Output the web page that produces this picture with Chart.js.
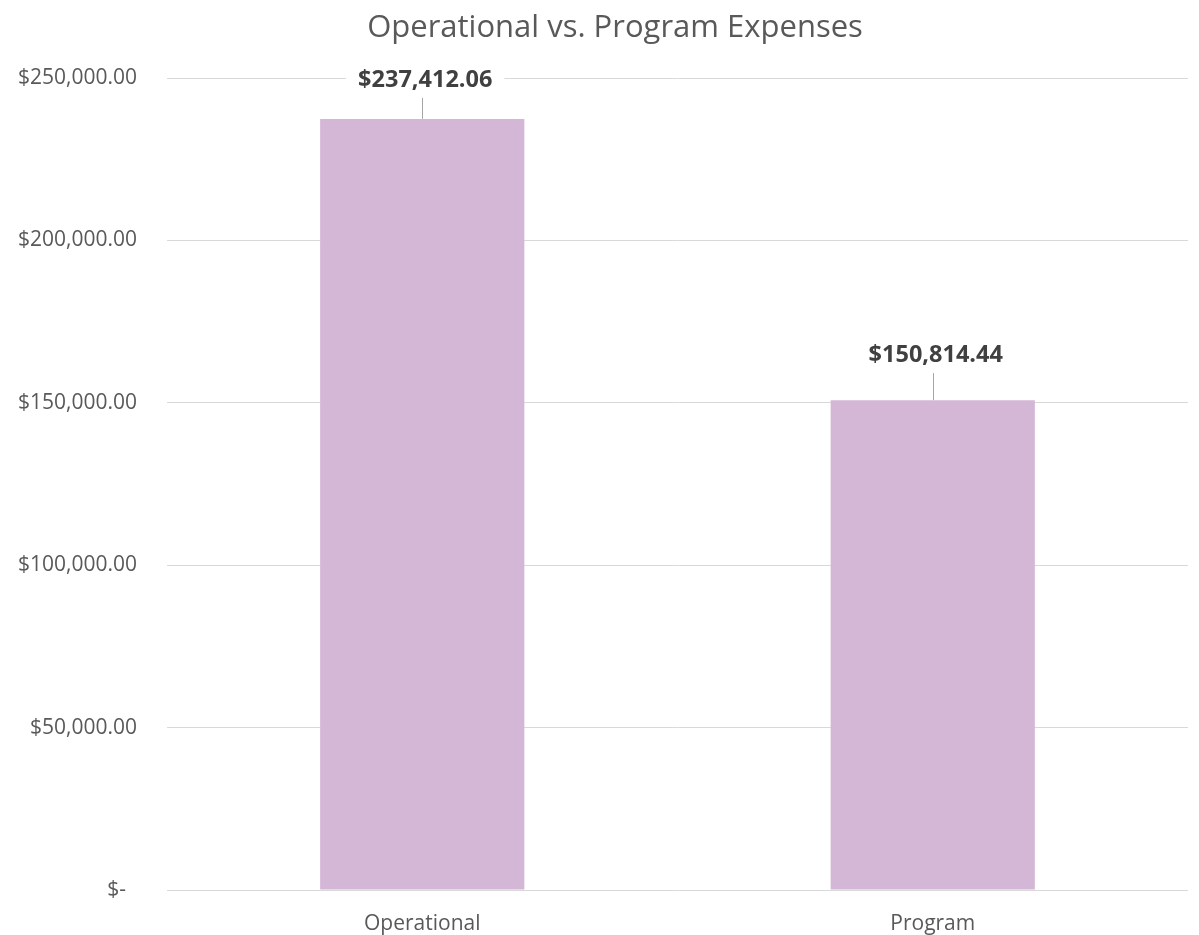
<!DOCTYPE html>
<html>
<head>
<meta charset="utf-8">
<script src="https://cdn.jsdelivr.net/npm/chart.js@4.4.1/dist/chart.umd.min.js"></script>
<style>
  html, body { margin: 0; padding: 0; background: #ffffff; }
  #wrap { width: 1199px; height: 935px; position: relative; }
</style>
</head>
<body>
<div id="wrap"><canvas id="c" width="1199" height="935"></canvas></div>
<script>
const categories = ['Operational', 'Program'];
const expenses = [237412.06, 150814.44];
const yTicks = [0, 50000, 100000, 150000, 200000, 250000];
const chartTitle = 'Operational vs. Program Expenses';

const FONT = "'Open Sans', 'Liberation Sans', sans-serif";

function money(v) {
  if (v === 0) return '$-  ';
  return '$' + v.toLocaleString('en-US', { minimumFractionDigits: 2, maximumFractionDigits: 2 });
}

const titlePlugin = {
  id: 'sheetTitle',
  afterDraw(chart, args, opts) {
    const ctx = chart.ctx;
    ctx.save();
    ctx.font = '31px ' + FONT;
    ctx.fillStyle = '#595959';
    ctx.textAlign = 'center';
    ctx.textBaseline = 'middle';
    ctx.fillText(opts.text, opts.x, opts.y);
    ctx.restore();
  }
};

const labelPlugin = {
  id: 'valueLabels',
  afterDatasetsDraw(chart, args, opts) {
    const ctx = chart.ctx;
    const meta = chart.getDatasetMeta(0);
    ctx.save();
    ctx.font = 'bold 23.5px ' + FONT;
    ctx.textAlign = 'center';
    ctx.textBaseline = 'middle';
    meta.data.forEach((bar, i) => {
      const text = money(chart.data.datasets[0].data[i]);
      const cx = bar.x + opts.dx;
      const cy = bar.y - opts.offsets[i];
      const w = ctx.measureText(text).width;
      ctx.fillStyle = '#ffffff';
      ctx.fillRect(cx - w / 2 - 12, cy - 15, w + 24, 30);
      ctx.strokeStyle = '#a6a6a6';
      ctx.lineWidth = 1;
      ctx.beginPath();
      ctx.moveTo(Math.round(bar.x) + 0.5, cy + 18);
      ctx.lineTo(Math.round(bar.x) + 0.5, bar.y);
      ctx.stroke();
      ctx.fillStyle = '#404040';
      ctx.fillText(text, cx, cy);
    });
    ctx.restore();
  }
};

new Chart(document.getElementById('c'), {
  type: 'bar',
  data: {
    labels: categories,
    datasets: [{
      data: expenses,
      backgroundColor: '#d4b6d6',
      borderWidth: 0,
      barPercentage: 0.4,
      categoryPercentage: 1
    }]
  },
  options: {
    responsive: false,
    animation: false,
    devicePixelRatio: 1,
    layout: { padding: { left: 0, right: 11, top: 78, bottom: 0 } },
    plugins: {
      legend: { display: false },
      tooltip: { enabled: false },
      title: { display: false },
      sheetTitle: { text: chartTitle, x: 615, y: 28 },
      valueLabels: { offsets: [39, 45], dx: 3 }
    },
    scales: {
      x: {
        grid: { display: false, drawTicks: false },
        border: { display: false },
        ticks: { color: '#595959', font: { family: FONT, size: 21 }, padding: 21 },
        afterFit(scale) { scale.height = 45; }
      },
      y: {
        min: 0,
        max: 250000,
        afterBuildTicks(scale) { scale.ticks = yTicks.map(v => ({ value: v })); },
        grid: { color: '#d9d9d9', lineWidth: 1, drawTicks: false },
        border: { display: false },
        ticks: {
          color: '#595959',
          font: { family: FONT, size: 21 },
          padding: 30,
          callback: (v) => money(v)
        },
        afterFit(scale) { scale.width = 167; }
      }
    }
  },
  plugins: [labelPlugin, titlePlugin]
});
</script>
</body>
</html>
